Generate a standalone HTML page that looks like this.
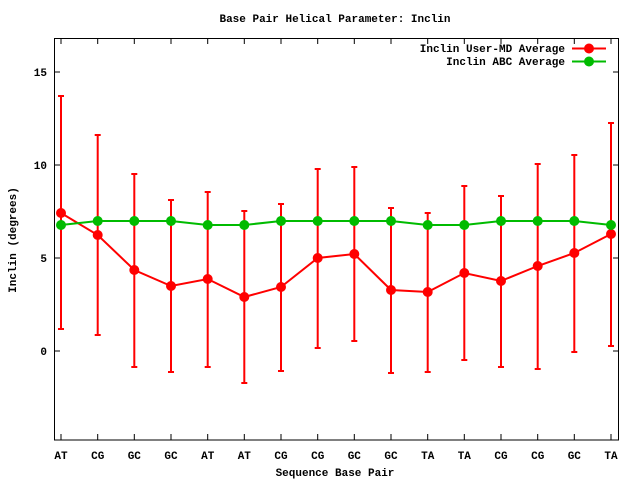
<!DOCTYPE html><html><head><style>body{margin:0;background:#fff}svg{display:block}text{font-family:"Liberation Mono",monospace;font-size:11px;font-weight:bold}</style></head><body>
<svg width="640" height="480" xmlns="http://www.w3.org/2000/svg">
<text x="335" y="22" text-anchor="middle">Base Pair Helical Parameter: Inclin</text>
<text x="335" y="476" text-anchor="middle">Sequence Base Pair</text>
<text transform="translate(16,240) rotate(-90)" text-anchor="middle">Inclin (degrees)</text>
<g text-anchor="end"><text x="47" y="76">15</text><text x="47" y="169">10</text><text x="47" y="262">5</text><text x="47" y="355">0</text></g>
<g stroke="#000" stroke-width="1" fill="none">
<path d="M54.5,72H60M54.5,165H60M54.5,258H60M54.5,351H60M618.5,72H613M618.5,165H613M618.5,258H613M618.5,351H613"/>
<path d="M61,440V434M97.7,440V434M134.3,440V434M171,440V434M207.7,440V434M244.3,440V434M281,440V434M317.7,440V434M354.3,440V434M391,440V434M427.7,440V434M464.3,440V434M501,440V434M537.7,440V434M574.3,440V434M611,440V434M61,38V44M97.7,38V44M134.3,38V44M171,38V44M207.7,38V44M244.3,38V44M281,38V44M317.7,38V44M354.3,38V44M391,38V44M427.7,38V44M464.3,38V44M501,38V44M537.7,38V44M574.3,38V44M611,38V44"/>
</g>
<g text-anchor="middle">
<text x="61" y="459">AT</text><text x="97.7" y="459">CG</text><text x="134.3" y="459">GC</text><text x="171" y="459">GC</text><text x="207.7" y="459">AT</text><text x="244.3" y="459">AT</text><text x="281" y="459">CG</text><text x="317.7" y="459">CG</text><text x="354.3" y="459">GC</text><text x="391" y="459">GC</text><text x="427.7" y="459">TA</text><text x="464.3" y="459">TA</text><text x="501" y="459">CG</text><text x="537.7" y="459">CG</text><text x="574.3" y="459">GC</text><text x="611" y="459">TA</text>
</g>
<path stroke="#f00" stroke-width="2" fill="none" d="
M61,96V329M58,96H64M58,329H64
M97.7,135V335M94.7,135H100.7M94.7,335H100.7
M134.3,174V367M131.3,174H137.3M131.3,367H137.3
M171,200V372M168,200H174M168,372H174
M207.7,192V367M204.7,192H210.7M204.7,367H210.7
M244.3,211V383M241.3,211H247.3M241.3,383H247.3
M281,204V371M278,204H284M278,371H284
M317.7,169V348M314.7,169H320.7M314.7,348H320.7
M354.3,167V341M351.3,167H357.3M351.3,341H357.3
M391,208V373M388,208H394M388,373H394
M427.7,213V372M424.7,213H430.7M424.7,372H430.7
M464.3,186V360M461.3,186H467.3M461.3,360H467.3
M501,196V367M498,196H504M498,367H504
M537.7,164V369M534.7,164H540.7M534.7,369H540.7
M574.3,155V352M571.3,155H577.3M571.3,352H577.3
M611,123V346M608,123H614M608,346H614"/>
<polyline fill="none" stroke="#f00" stroke-width="2" points="61,213 97.7,235 134.3,270 171,286 207.7,279 244.3,297 281,287 317.7,258 354.3,254 391,290 427.7,292 464.3,273 501,281 537.7,266 574.3,253 611,234"/>
<polyline fill="none" stroke="#0b0" stroke-width="2" points="61,225 97.7,221 134.3,221 171,221 207.7,225 244.3,225 281,221 317.7,221 354.3,221 391,221 427.7,225 464.3,225 501,221 537.7,221 574.3,221 611,225"/>
<g fill="#f00">
<circle cx="61" cy="213" r="5"/><circle cx="97.7" cy="235" r="5"/><circle cx="134.3" cy="270" r="5"/><circle cx="171" cy="286" r="5"/><circle cx="207.7" cy="279" r="5"/><circle cx="244.3" cy="297" r="5"/><circle cx="281" cy="287" r="5"/><circle cx="317.7" cy="258" r="5"/><circle cx="354.3" cy="254" r="5"/><circle cx="391" cy="290" r="5"/><circle cx="427.7" cy="292" r="5"/><circle cx="464.3" cy="273" r="5"/><circle cx="501" cy="281" r="5"/><circle cx="537.7" cy="266" r="5"/><circle cx="574.3" cy="253" r="5"/><circle cx="611" cy="234" r="5"/>
</g>
<g fill="#0b0">
<circle cx="61" cy="225" r="5"/><circle cx="97.7" cy="221" r="5"/><circle cx="134.3" cy="221" r="5"/><circle cx="171" cy="221" r="5"/><circle cx="207.7" cy="225" r="5"/><circle cx="244.3" cy="225" r="5"/><circle cx="281" cy="221" r="5"/><circle cx="317.7" cy="221" r="5"/><circle cx="354.3" cy="221" r="5"/><circle cx="391" cy="221" r="5"/><circle cx="427.7" cy="225" r="5"/><circle cx="464.3" cy="225" r="5"/><circle cx="501" cy="221" r="5"/><circle cx="537.7" cy="221" r="5"/><circle cx="574.3" cy="221" r="5"/><circle cx="611" cy="225" r="5"/>
</g>
<g text-anchor="end"><text x="565" y="52">Inclin User-MD Average</text><text x="565" y="65">Inclin ABC Average</text></g>
<line x1="572" y1="48.5" x2="606" y2="48.5" stroke="#f00" stroke-width="2"/><circle cx="589" cy="48.5" r="5" fill="#f00"/>
<line x1="572" y1="61.5" x2="606" y2="61.5" stroke="#0b0" stroke-width="2"/><circle cx="589" cy="61.5" r="5" fill="#0b0"/>
<rect x="54.5" y="38.5" width="564" height="401.5" fill="none" stroke="#000"/>
</svg></body></html>
